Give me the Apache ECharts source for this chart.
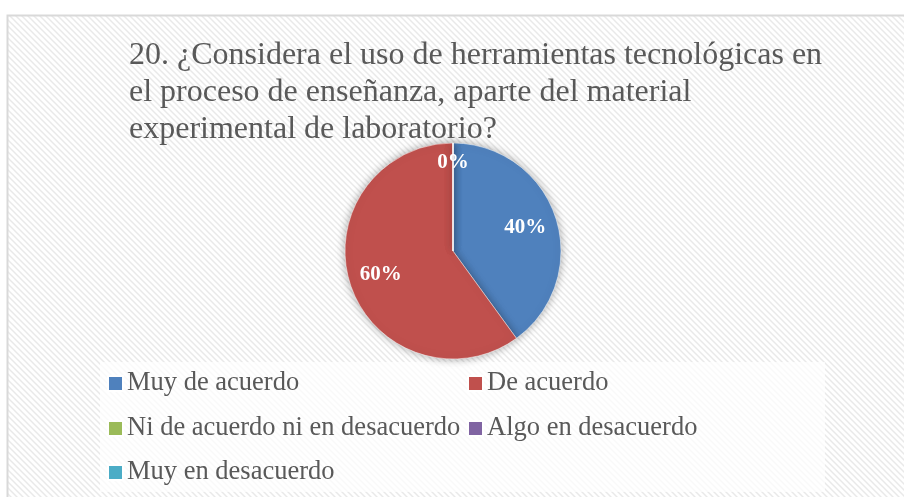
<!DOCTYPE html>
<html><head><meta charset="utf-8">
<script src="https://cdn.jsdelivr.net/npm/echarts@6/dist/echarts.min.js"></script>
<style>html,body{margin:0;padding:0;background:#fff}#c{width:904px;height:497px}</style>
</head><body><div id="c"></div>
<script>
const titleText = "20. ¿Considera el uso de herramientas tecnológicas en\nel proceso de enseñanza, aparte del material\nexperimental de laboratorio?";
const categories = ["Muy de acuerdo","De acuerdo","Ni de acuerdo ni en desacuerdo","Algo en desacuerdo","Muy en desacuerdo"];
const values = [40, 60, 0, 0, 0];
const colors = ["#4F81BD","#C0504D","#9BBB59","#8064A2","#4BACC6"];
const legendPos = [[107,370],[467,370],[107,415],[467,415],[107,459]];

const pc = document.createElement('canvas');
pc.width = 6; pc.height = 6;
const g = pc.getContext('2d');
g.fillStyle = '#ffffff'; g.fillRect(0,0,6,6);
g.strokeStyle = '#e9e9e9'; g.lineWidth = 1.5;
for (let k=-2;k<=2;k++){ g.beginPath(); g.moveTo(-1+k*6,-1); g.lineTo(7+k*6,7); g.stroke(); }

const chart = echarts.init(document.getElementById('c'), null, {renderer:'canvas'});
const data = categories.map((n,i)=>({name:n, value:values[i], itemStyle:{color:colors[i]}}));
const legends = categories.map((n,i)=>({
  data:[n], left:legendPos[i][0], top:legendPos[i][1], orient:'horizontal', padding:0,
  itemWidth:15, itemHeight:15, itemGap:5, icon:'rect', selectedMode:false,
  textStyle:{fontFamily:'Liberation Serif', fontSize:26.5, color:'#595959', padding:[0,0,0,-1]}
}));
chart.setOption({
  animation:false,
  graphic:[
    {type:'rect', shape:{x:7.5,y:15.5,width:910,height:500}, style:{fill:{image:pc, repeat:'repeat'}, stroke:'#d9d9d9', lineWidth:2}, z:-10},
    {type:'rect', shape:{x:100,y:362,width:725,height:130}, style:{fill:'rgba(255,255,255,0.7)'}, z:-9}
  ],
  title:{text:titleText, left:129, top:37, padding:0,
    textStyle:{fontFamily:'Liberation Serif', fontSize:32, fontWeight:'normal', color:'#595959', lineHeight:37}},
  legend:legends,
  series:[
    {type:'pie', center:[453,251], radius:[0,108], startAngle:90, clockwise:true,
     data:data, label:{show:false}, labelLine:{show:false},
     itemStyle:{shadowBlur:8, shadowColor:'rgba(0,0,0,0.35)', borderColor:'#fff', borderWidth:0.5},
     emphasis:{disabled:true}},
    {type:'pie', center:[453,251], radius:[0,146], startAngle:90, clockwise:true, silent:true,
     data:categories.map((n,i)=>({name:n, value:values[i], itemStyle:{color:'rgba(0,0,0,0)'}, label:{offset: values[i]===0 ? [0,-12] : [0,0]}})),
     label:{show:true, position:'inside', formatter:'{d}%', fontFamily:'Liberation Serif', fontSize:21, fontWeight:'bold', color:'#ffffff'},
     labelLine:{show:false}, emphasis:{disabled:true}, z:3}
  ]
});
</script></body></html>
